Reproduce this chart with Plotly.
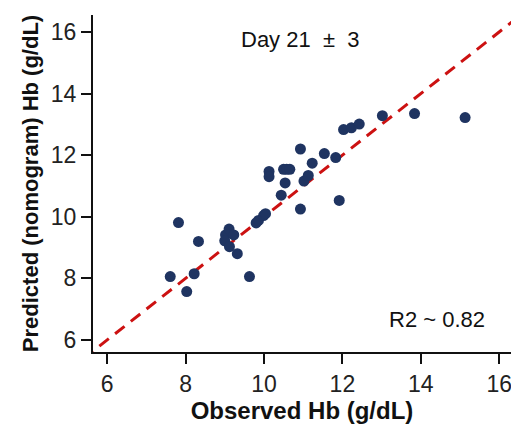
import plotly.graph_objects as go

observed = [7.61, 7.82, 8.03, 8.22, 8.33, 9.02, 9.00, 9.11, 9.23, 9.12, 9.32, 9.63,
            9.80, 9.86, 9.99, 10.04, 10.13, 10.13, 10.44, 10.54, 10.50, 10.58, 10.66,
            10.93, 10.93, 11.02, 11.13, 11.23, 11.54, 11.83, 11.92, 12.03, 12.23,
            12.43, 13.02, 13.84, 15.13]
predicted = [8.06, 9.81, 7.57, 8.15, 9.20, 9.41, 9.22, 9.60, 9.41, 9.03, 8.80, 8.06,
             9.80, 9.88, 10.04, 10.10, 11.47, 11.30, 10.70, 11.10, 11.54, 11.54, 11.54,
             12.20, 10.25, 11.16, 11.34, 11.74, 12.05, 11.92, 10.53, 12.83, 12.89,
             13.01, 13.28, 13.35, 13.22]
identity_line = [5.0, 17.0]
x_ticks = [6, 8, 10, 12, 14, 16]
y_ticks = [6, 8, 10, 12, 14, 16]

FONT = "Liberation Sans, Arial, sans-serif"

fig = go.Figure()
fig.add_trace(go.Scatter(x=identity_line, y=identity_line, mode="lines",
                         line=dict(color="#cc1111", width=3, dash="12px,8px"),
                         hoverinfo="skip", showlegend=False))
fig.add_trace(go.Scatter(x=observed, y=predicted, mode="markers",
                         marker=dict(color="#1f3461", size=11),
                         showlegend=False))

fig.add_annotation(text="Day 21 \u00a0\u00b1\u00a0 3", x=0.495, y=0.926, xref="paper", yref="paper",
                   xanchor="center", yanchor="middle",
                   showarrow=False, font=dict(family=FONT, size=22, color="#111111"))
fig.add_annotation(text="R2 ~ 0.82", x=0.823, y=0.095, xref="paper", yref="paper",
                   xanchor="center", yanchor="middle",
                   showarrow=False, font=dict(family=FONT, size=22, color="#111111"))

axis_common = dict(showgrid=False, zeroline=False, showline=True, linecolor="#111111",
                   linewidth=2, ticks="outside", ticklen=10, tickwidth=2,
                   tickcolor="#111111", mirror=False, automargin=False,
                   ticklabeloverflow="allow",
                   tickfont=dict(family=FONT, size=23, color="#222222"))

fig.update_layout(
    width=511, height=425,
    margin=dict(l=93, r=0, t=15, b=73),
    paper_bgcolor="white", plot_bgcolor="white",
    xaxis=dict(range=[5.64, 16.3], tickvals=x_ticks,
               title=dict(text="<b>Observed Hb (g/dL)</b>", standoff=4,
                          font=dict(family=FONT, size=24, color="#111111")),
               **axis_common),
    yaxis=dict(range=[5.61, 16.55], tickvals=y_ticks,
               title=dict(text="<b>Predicted (nomogram) Hb (g/dL)</b>", standoff=6,
                          font=dict(family=FONT, size=22, color="#111111")),
               **axis_common),
)

fig.write_html("out.html", config={"displayModeBar": False},
               post_script="document.body.style.margin='0';document.body.style.overflow='hidden';")
